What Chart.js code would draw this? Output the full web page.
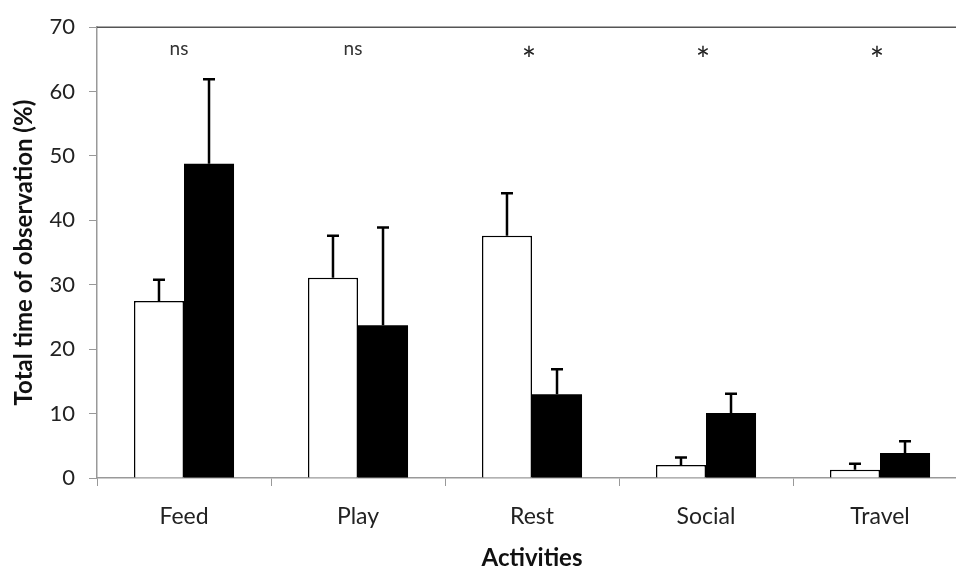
<!DOCTYPE html>
<html lang="en">
<head>
  <meta charset="UTF-8">
  <title>Activities</title>
  <script src="https://cdn.jsdelivr.net/npm/chart.js"></script>
  <style>
    html, body {
      margin: 0;
      padding: 0;
      background: #fff;
      overflow: hidden;
    }
    #wrap {
      width: 976px;
      height: 568px;
    }
  </style>
</head>
<body>
  <div id="wrap">
    <canvas id="activityChart" width="976" height="568"></canvas>
  </div>

  <script>
    const activities = ['Feed', 'Play', 'Rest', 'Social', 'Travel'];
    const whiteMeans = [27.5, 31.1, 37.6, 2.0, 1.3];
    const whiteErr = [3.3, 6.5, 6.6, 1.2, 0.9];
    const blackMeans = [48.8, 23.7, 13.0, 10.1, 3.9];
    const blackErr = [13.1, 15.2, 3.9, 3.0, 1.8];
    const sigLabels = ['ns', 'ns', '*', '*', '*'];
    const yTicks = [0, 10, 20, 30, 40, 50, 60, 70];

    const FONT = 'Lato, "Open Sans", sans-serif';

    // draw text so that its ink is centred on (x, y)
    function centredText(c, s, x, y) {
      const m = c.measureText(s);
      const base = y + (m.actualBoundingBoxAscent - m.actualBoundingBoxDescent) / 2;
      c.fillText(s, x, base);
    }

    // error bars (upper only), top border and significance marks
    const extras = {
      id: 'extras',
      afterDatasetsDraw(chart) {
        const c = chart.ctx;
        const y = chart.scales.y;
        const errs = [whiteErr, blackErr];
        c.save();
        c.strokeStyle = '#000';
        c.lineWidth = 2.5;
        chart.data.datasets.forEach((ds, di) => {
          const meta = chart.getDatasetMeta(di);
          meta.data.forEach((bar, i) => {
            const top = y.getPixelForValue(ds.data[i]);
            const hi = y.getPixelForValue(ds.data[i] + errs[di][i]);
            c.beginPath();
            c.moveTo(bar.x, top);
            c.lineTo(bar.x, hi);
            c.moveTo(bar.x - 6, hi);
            c.lineTo(bar.x + 6, hi);
            c.stroke();
          });
        });

        const area = chart.chartArea;
        c.strokeStyle = '#555';
        c.lineWidth = 1.5;
        c.beginPath();
        c.moveTo(area.left, area.top);
        c.lineTo(area.right, area.top);
        c.stroke();

        const x = chart.scales.x;
        c.textAlign = 'center';
        c.textBaseline = 'alphabetic';
        sigLabels.forEach((s, i) => {
          const px = x.getPixelForValue(i);
          if (s === '*') {
            c.font = '34px ' + FONT;
            c.fillStyle = '#222';
            centredText(c, s, px - 3, 51);
          } else {
            c.font = '19px ' + FONT;
            c.fillStyle = '#333';
            centredText(c, s, px - 5, 50);
          }
        });
        c.restore();
      }
    };

    new Chart(document.getElementById('activityChart'), {
      type: 'bar',
      data: {
        labels: activities,
        datasets: [{
          label: 'White',
          data: whiteMeans,
          backgroundColor: '#fff',
          borderColor: '#000',
          borderWidth: 1.5,
          borderSkipped: 'bottom'
        }, {
          label: 'Black',
          data: blackMeans,
          backgroundColor: '#000',
          borderColor: '#000',
          borderWidth: 0
        }]
      },
      options: {
        responsive: false,
        animation: false,
        layout: { padding: { left: 0, top: 26, right: 9, bottom: 0 } },
        datasets: { bar: { categoryPercentage: 0.575, barPercentage: 1.0 } },
        plugins: {
          legend: { display: false },
          tooltip: { enabled: false }
        },
        scales: {
          x: {
            grid: {
              offset: true,
              drawOnChartArea: false,
              drawTicks: true,
              tickLength: 8,
              color: '#999'
            },
            border: { color: '#999', width: 1.5 },
            ticks: { color: '#222', font: { family: FONT, size: 23 }, padding: 17 },
            title: {
              display: true,
              text: 'Activities',
              color: '#111',
              font: { family: FONT, size: 24, weight: 'bold', lineHeight: 0.8 },
              padding: { top: 10, bottom: 0 }
            },
            afterFit(scale) { scale.height = 90; }
          },
          y: {
            min: 0,
            max: 70,
            afterBuildTicks(scale) { scale.ticks = yTicks.map(v => ({ value: v })); },
            grid: {
              drawOnChartArea: false,
              drawTicks: true,
              tickLength: 8,
              color: '#999'
            },
            border: { color: '#999', width: 1.5 },
            ticks: { color: '#222', font: { family: FONT, size: 22 }, padding: 14 },
            title: {
              display: true,
              text: 'Total time of observation (%)',
              color: '#111',
              font: { family: FONT, size: 24, weight: 'bold' },
              padding: { top: 10, bottom: 6 }
            },
            afterFit(scale) { scale.width = 97; }
          }
        }
      },
      plugins: [extras]
    });
  </script>
</body>
</html>
